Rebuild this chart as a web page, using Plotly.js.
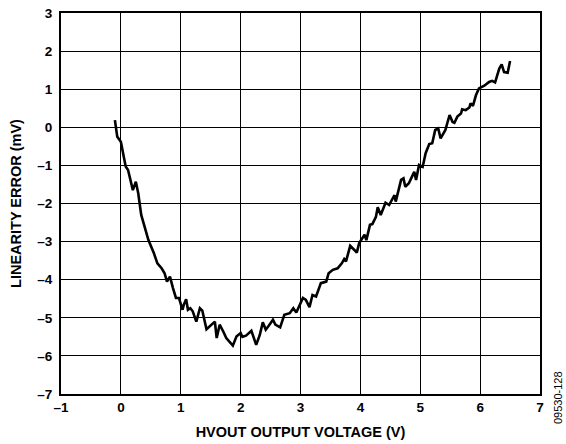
<!DOCTYPE html>
<html>
<head>
<meta charset="utf-8">
<script src="https://cdn.plot.ly/plotly-3.0.1.min.js"></script>
<style>
  html, body { margin: 0; padding: 0; background: #fff; }
  #chart { width: 566px; height: 444px; }
</style>
</head>
<body>
<div id="chart"></div>
<script>
// HVOUT output voltage (V)
const hvoutVoltage = [
  -0.10, -0.06, 0.00, 0.05, 0.08, 0.12, 0.18, 0.20, 0.25, 0.29,
  0.34, 0.40, 0.46, 0.55, 0.61, 0.68, 0.73, 0.77, 0.82, 0.87,
  0.92, 0.97, 1.03, 1.05, 1.09, 1.12, 1.16, 1.20, 1.26, 1.32,
  1.36, 1.43, 1.48, 1.57, 1.60, 1.65, 1.71, 1.76, 1.87, 1.93,
  2.00, 2.03, 2.09, 2.18, 2.26, 2.32, 2.37, 2.42, 2.46, 2.54,
  2.58, 2.66, 2.73, 2.82, 2.88, 2.93, 3.04, 3.09, 3.15, 3.20,
  3.26, 3.34, 3.43, 3.47, 3.54, 3.62, 3.69, 3.73, 3.76, 3.83,
  3.90, 3.94, 3.98, 4.07, 4.10, 4.16, 4.20, 4.26, 4.29, 4.34,
  4.42, 4.48, 4.57, 4.59, 4.68, 4.72, 4.75, 4.81, 4.86, 4.90,
  4.93, 4.98, 5.04, 5.09, 5.15, 5.20, 5.25, 5.30, 5.34, 5.37,
  5.42, 5.45, 5.49, 5.54, 5.57, 5.62, 5.68, 5.70, 5.76, 5.82,
  5.84, 5.88, 5.93, 5.98, 6.07, 6.15, 6.20, 6.25, 6.29, 6.32,
  6.36, 6.40, 6.46, 6.50
];

// Linearity error (mV)
const linearityError = [
  0.19, -0.25, -0.38, -0.82, -1.03, -1.12, -1.56, -1.65, -1.43, -1.73,
  -2.30, -2.61, -2.96, -3.30, -3.57, -3.70, -3.83, -4.05, -3.92, -4.22,
  -4.48, -4.48, -4.79, -4.66, -4.51, -4.79, -4.75, -4.83, -5.10, -4.75,
  -4.81, -5.30, -5.23, -5.10, -5.53, -5.18, -5.36, -5.53, -5.73, -5.49,
  -5.40, -5.50, -5.47, -5.34, -5.71, -5.45, -5.12, -5.31, -5.23, -5.05,
  -5.18, -5.25, -4.92, -4.88, -4.75, -4.86, -4.48, -4.53, -4.72, -4.40,
  -4.44, -4.09, -4.05, -3.83, -3.74, -3.70, -3.57, -3.46, -3.52, -3.11,
  -3.22, -3.29, -3.04, -2.82, -2.96, -2.56, -2.54, -2.35, -2.10, -2.30,
  -1.98, -2.04, -1.78, -1.95, -1.38, -1.34, -1.56, -1.47, -1.30, -1.17,
  -1.38, -0.99, -1.04, -0.68, -0.44, -0.42, -0.07, -0.03, -0.29, -0.20,
  -0.07, 0.10, 0.32, 0.14, 0.12, 0.28, 0.36, 0.47, 0.45, 0.52,
  0.63, 0.56, 0.84, 1.02, 1.09, 1.19, 1.22, 1.18, 1.37, 1.54,
  1.65, 1.45, 1.43, 1.74
];

const xTickVals = [-1, 0, 1, 2, 3, 4, 5, 6, 7];
const xTickText = ['\u20131', '0', '1', '2', '3', '4', '5', '6', '7'];
const yTickVals = [-7, -6, -5, -4, -3, -2, -1, 0, 1, 2, 3];
const yTickText = ['\u20137', '\u20136', '\u20135', '\u20134', '\u20133', '\u20132', '\u20131', '0', '1', '2', '3'];

const fontFamily = '"Liberation Sans", Arial, sans-serif';
const bold = s => '<b>' + s + '</b>';

const trace = {
  x: hvoutVoltage,
  y: linearityError,
  type: 'scatter',
  mode: 'lines',
  line: { color: '#000', width: 2.6, shape: 'linear' },
  hoverinfo: 'skip'
};

const axisCommon = {
  showgrid: true,
  gridcolor: '#000',
  gridwidth: 1.2,
  zeroline: false,
  showline: true,
  linecolor: '#000',
  linewidth: 2,
  mirror: true,
  ticks: '',
  tickfont: { family: fontFamily, size: 13.5, color: '#000', weight: 700 },
  tickmode: 'array',
  fixedrange: true
};

const layout = {
  width: 566,
  height: 444,
  margin: { l: 61, r: 26, t: 13, b: 50 },
  paper_bgcolor: '#fff',
  plot_bgcolor: '#fff',
  showlegend: false,
  xaxis: Object.assign({}, axisCommon, {
    range: [-1, 7],
    tickvals: xTickVals,
    ticktext: xTickText.map(bold),
    title: {
      text: bold('HVOUT OUTPUT VOLTAGE (V)'),
      font: { family: fontFamily, size: 14.5, color: '#000' },
      standoff: 13
    }
  }),
  yaxis: Object.assign({}, axisCommon, {
    range: [-7, 3],
    tickvals: yTickVals,
    ticktext: yTickText.map(bold),
    ticklabelstandoff: 4,
    title: {
      text: bold('LINEARITY ERROR (mV)'),
      font: { family: fontFamily, size: 14.5, color: '#000' },
      standoff: 12
    }
  }),
  annotations: [{
    text: '09530-128',
    xref: 'paper', yref: 'paper',
    x: 1, y: 0,
    xanchor: 'left', yanchor: 'middle',
    xshift: 10, yshift: -4,
    textangle: -90,
    showarrow: false,
    font: { family: fontFamily, size: 11, color: '#000' }
  }]
};

Plotly.newPlot('chart', [trace], layout, { displayModeBar: false, staticPlot: true });
</script>
</body>
</html>
